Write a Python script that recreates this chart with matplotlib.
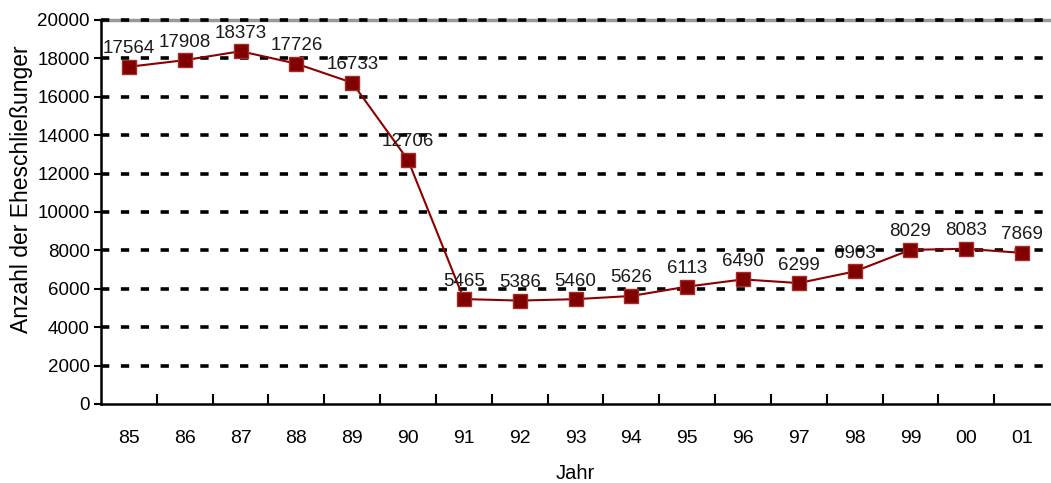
import matplotlib
matplotlib.use("Agg")
import matplotlib.pyplot as plt

plt.rcParams['font.family'] = ['Liberation Sans', 'DejaVu Sans']

years = ["85", "86", "87", "88", "89", "90", "91", "92", "93", "94", "95", "96", "97", "98", "99", "00", "01"]
values = [17564, 17908, 18373, 17726, 16733, 12706, 5465, 5386, 5460, 5626, 6113, 6490, 6299, 6903, 8029, 8083, 7869]
yticks = [0, 2000, 4000, 6000, 8000, 10000, 12000, 14000, 16000, 18000, 20000]

fig = plt.figure(figsize=(10.51, 4.83), dpi=100)
ax = fig.add_axes([101/1051, 1-404/483, 949/1051, 384/483])

x = list(range(len(years)))
ax.set_xlim(-0.5, len(years) - 0.5)
ax.set_ylim(0, 20000)

ax.axhline(20000, color='#999999', lw=2.5, zorder=1, clip_on=False)
for t in yticks[1:]:
    ax.axhline(t, color='black', lw=2.6, linestyle=(0, (2.3, 3.2)), zorder=1.5, clip_on=False)

ax.plot(x, values, color='#8B0000', lw=1.5, marker='s', markersize=10,
        markerfacecolor='#800000', markeredgecolor='#A52A2A', markeredgewidth=1, zorder=3, clip_on=False)

for xi, v in zip(x, values):
    ax.annotate(str(v), (xi, v), xytext=(0, 13), textcoords='offset points',
                ha='center', va='center', fontsize=13.5, color='#1a1a1a', zorder=4, annotation_clip=False)

ax.set_yticks(yticks)
ax.set_yticklabels([str(t) for t in yticks], fontsize=13.5)
ax.set_xticks(x)
ax.set_xticklabels(years, fontsize=14)
ax.tick_params(axis='x', length=0, pad=19)
ax.tick_params(axis='y', length=5, width=1.5, direction='out', pad=3)
ax.set_xticks([i + 0.5 for i in x[:-1]], minor=True)
ax.tick_params(axis='x', which='minor', direction='in', length=7, width=1.5)

for s in ['top', 'right']:
    ax.spines[s].set_visible(False)
ax.spines['left'].set_linewidth(1.8)
ax.spines['bottom'].set_linewidth(1.8)

ax.set_xlabel("Jahr", fontsize=14.5, labelpad=12)
ax.set_ylabel("Anzahl der Eheschließunger", fontsize=16.5)
ax.yaxis.set_label_coords(-0.072, 0.56)

fig.savefig("out.png", dpi=100)
